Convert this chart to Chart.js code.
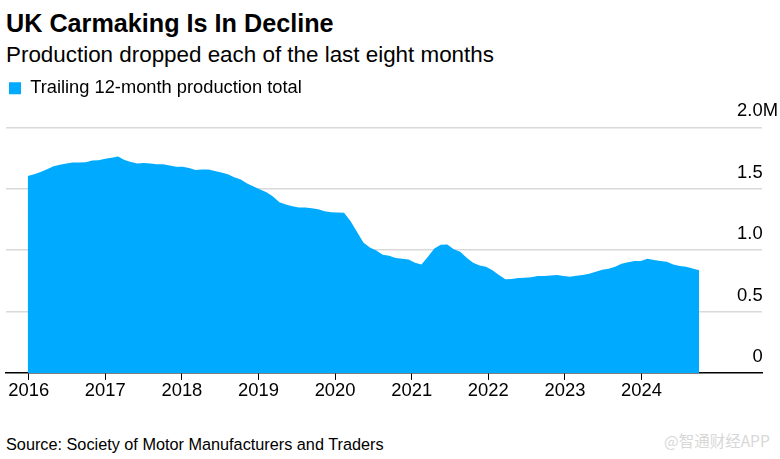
<!DOCTYPE html>
<html>
<head>
<meta charset="utf-8">
<title>UK Carmaking Is In Decline</title>
<script src="https://cdn.jsdelivr.net/npm/chart.js@4"></script>
<style>
    html, body { margin: 0; padding: 0; background: #fff; }
    body { width: 780px; height: 459px; position: relative; overflow: hidden; font-family: "Liberation Sans", Arial, sans-serif; color: #000; }
    .text { position: absolute; white-space: nowrap; }
    #title { left: 6px; top: 8px; font-size: 25.2px; line-height: 30px; font-weight: bold; }
    #subtitle { left: 6px; top: 41px; font-size: 22.4px; line-height: 28px; }
    #source { left: 6px; top: 435px; font-size: 16.25px; line-height: 18px; }
    #watermark { left: 664px; top: 431px; font-size: 15.5px; line-height: 18px; color: #d8d8d8; font-family: "Noto Sans CJK SC", sans-serif; }
    #chart-box { position: absolute; left: 0; top: 0; width: 780px; height: 402px; }
</style>
</head>
<body>
<div class="text" id="title">UK Carmaking Is In Decline</div>
<div class="text" id="subtitle">Production dropped each of the last eight months</div>
<div id="chart-box"><canvas id="myChart"></canvas></div>
<div class="text" id="source">Source: Society of Motor Manufacturers and Traders</div>
<div class="text" id="watermark">@智通财经APP</div>
<script>
const seriesName = 'Trailing 12-month production total';
const firstPoint = 2015.987;
const monthStep = 0.08427; // point spacing in years
const xTicks = [2016, 2017, 2018, 2019, 2020, 2021, 2022, 2023, 2024];
const yTicks = [0, 0.5, 1, 1.5, 2];

// millions of cars, one value per month
const production = [
    1.604, 1.618, 1.637, 1.659, 1.683, 1.696, 1.705, 1.713, 1.713, 1.715,
    1.729, 1.732, 1.743, 1.753, 1.762, 1.734, 1.718, 1.705, 1.710, 1.705,
    1.700, 1.700, 1.688, 1.678, 1.678, 1.669, 1.653, 1.656, 1.656, 1.645,
    1.631, 1.618, 1.593, 1.575, 1.542, 1.518, 1.493, 1.472, 1.436, 1.390,
    1.371, 1.358, 1.347, 1.347, 1.341, 1.333, 1.317, 1.309, 1.306, 1.304,
    1.238, 1.149, 1.062, 1.022, 0.997, 0.962, 0.954, 0.935, 0.930, 0.924,
    0.897, 0.883, 0.946, 1.014, 1.043, 1.046, 1.008, 0.986, 0.938, 0.897,
    0.875, 0.864, 0.837, 0.797, 0.762, 0.764, 0.772, 0.775, 0.780, 0.789,
    0.789, 0.794, 0.797, 0.789, 0.783, 0.791, 0.797, 0.808, 0.824, 0.840,
    0.848, 0.864, 0.889, 0.902, 0.911, 0.911, 0.930, 0.919, 0.911, 0.905,
    0.883, 0.870, 0.864, 0.851, 0.837
];

const axisFont = { family: '"Liberation Sans", Arial, sans-serif', size: 18.4 };

// extra room between the legend and the plot
const legendGap = {
    id: 'legendGap',
    beforeInit(chart) {
        const fit = chart.legend.fit;
        chart.legend.fit = function () {
            fit.call(this);
            this.height += 20;
        };
    }
};

new Chart(document.getElementById('myChart').getContext('2d'), {
    type: 'line',
    plugins: [legendGap],
    data: {
        datasets: [{
            label: seriesName,
            data: production.map((v, i) => ({ x: firstPoint + i * monthStep, y: v })),
            backgroundColor: '#00aaff',
            borderColor: '#00aaff',
            borderWidth: 0,
            pointRadius: 0,
            tension: 0,
            fill: 'origin'
        }]
    },
    options: {
        responsive: true,
        maintainAspectRatio: false,
        animation: false,
        layout: { padding: { left: 6, right: 18, top: 76, bottom: 0 } },
        plugins: {
            tooltip: { enabled: false },
            legend: {
                display: true,
                position: 'top',
                align: 'start',
                labels: {
                    boxWidth: 12,
                    boxHeight: 12,
                    padding: 3,
                    color: '#000',
                    font: { family: axisFont.family, size: 18.3 }
                }
            }
        },
        scales: {
            x: {
                type: 'linear',
                min: 2015.704,
                max: 2025.573,
                afterBuildTicks: (scale) => { scale.ticks = xTicks.map(v => ({ value: v })); },
                grid: { drawOnChartArea: false, drawTicks: true, tickLength: 7, color: '#000', lineWidth: 1 },
                border: { display: true, color: '#000', width: 1.5 },
                ticks: {
                    color: '#000',
                    font: axisFont,
                    padding: 0,
                    maxRotation: 0,
                    autoSkip: false,
                    callback: (v) => String(v)
                }
            },
            y: {
                position: 'right',
                min: 0,
                max: 2,
                afterFit: (scale) => { scale.width = 0; },
                afterBuildTicks: (scale) => { scale.ticks = yTicks.map(v => ({ value: v })); },
                grid: { color: (c) => c.tick.value === 0 ? 'rgba(0,0,0,0)' : '#d9d9d9', lineWidth: 1.5, drawTicks: false },
                border: { display: false },
                ticks: {
                    color: '#000',
                    font: axisFont,
                    mirror: true,
                    padding: 16,
                    labelOffset: -16,
                    // three spaces are as wide as the M, so the figures line up under 2.0
                    callback: (v) => v === 2 ? '2.0M' : (v === 0 ? '0' : v.toFixed(1)) + '   '
                }
            }
        }
    }
});
</script>
</body>
</html>
